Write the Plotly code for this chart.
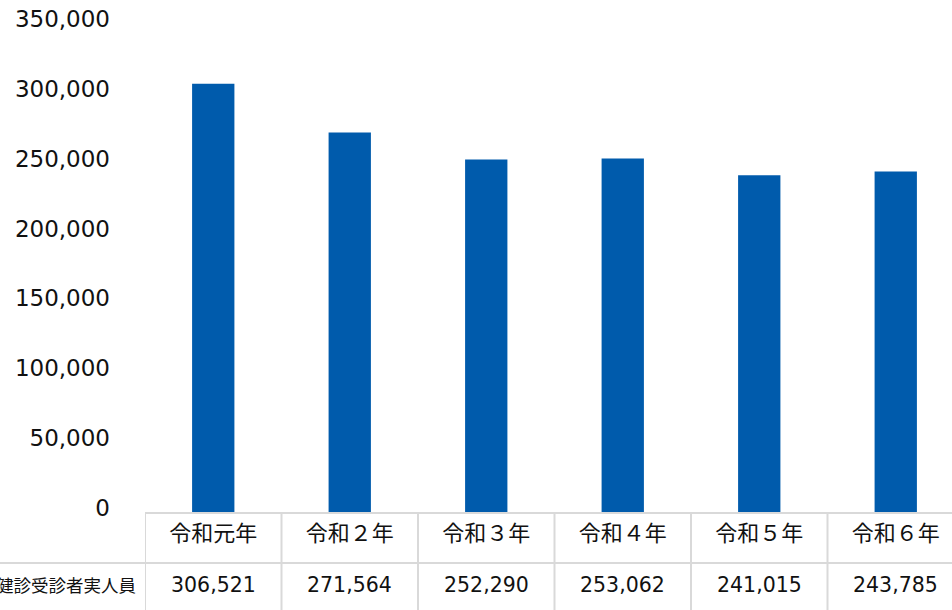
import plotly.graph_objects as go

categories = ["令和元年", "令和２年", "令和３年", "令和４年", "令和５年", "令和６年"]
values = [306521, 271564, 252290, 253062, 241015, 243785]
row_label = "特定健診受診者実人員"
y_ticks = [0, 50000, 100000, 150000, 200000, 250000, 300000, 350000]

W, H = 952, 610
ML, MR, MT, MB = 145, 0, 23, 98
PW = W - ML - MR
PH = H - MT - MB
CAT_W = 136.5  # px per category
x_hi = -0.5 + PW / CAT_W
BASE = H - MB  # pixel row of the value axis zero

bar_color = "#005BAC"
grid_color = "#D9D9D9"
font_latin = "DejaVu Sans, Noto Sans CJK JP, sans-serif"
font_cjk = "Noto Sans CJK JP, DejaVu Sans, sans-serif"

xs = list(range(len(categories)))

fig = go.Figure()
fig.add_trace(go.Bar(
    x=xs, y=values, marker=dict(color=bar_color, line=dict(width=0)),
    width=0.31, hoverinfo="skip",
))

# table row of values
annotations = []
for xi, v in zip(xs, values):
    annotations.append(dict(
        x=xi, xref="x", y=-(585 - BASE) / PH, yref="paper",
        text=f"{v:,}", showarrow=False, xanchor="center", yanchor="middle",
        font=dict(family=font_latin, size=20.5, color="#111111"),
    ))
annotations.append(dict(
    x=-7 / PW, xref="paper", y=-(585 - BASE) / PH, yref="paper",
    text=row_label, showarrow=False, xanchor="right", yanchor="middle",
    font=dict(family=font_cjk, size=17.5, color="#111111"),
))

shapes = []
y_top = -(513 - BASE) / PH
y_mid = -(563 - BASE) / PH
y_bot = -(H + 5 - BASE) / PH
shapes.append(dict(type="line", xref="paper", yref="paper", x0=0, x1=1.05,
                   y0=y_top, y1=y_top, line=dict(color=grid_color, width=2)))
shapes.append(dict(type="line", xref="paper", yref="paper", x0=-ML / PW, x1=1.05,
                   y0=y_mid, y1=y_mid, line=dict(color=grid_color, width=2)))
for xi in xs:
    shapes.append(dict(type="line", xref="x", yref="paper", x0=xi - 0.5, x1=xi - 0.5,
                       y0=y_top, y1=y_bot, line=dict(color=grid_color, width=2)))

fig.update_layout(
    width=W, height=H,
    margin=dict(l=ML, r=MR, t=MT, b=MB, pad=0),
    plot_bgcolor="white", paper_bgcolor="white",
    showlegend=False,
    xaxis=dict(
        range=[-0.5, x_hi], tickmode="array", tickvals=xs, ticktext=categories,
        showgrid=False, zeroline=False, showline=False, ticks="",
        tickfont=dict(family=font_cjk, size=22, color="#111111"),
        ticklabelstandoff=6, fixedrange=True,
    ),
    yaxis=dict(
        range=[0, 350000], tickmode="array", tickvals=y_ticks,
        ticktext=[f"{t:,}" for t in y_ticks],
        showgrid=False, zeroline=False, showline=False, ticks="",
        tickfont=dict(family=font_latin, size=23, color="#111111"),
        ticklabelstandoff=34, ticklabelshift=-4, fixedrange=True,
    ),
    annotations=annotations,
    shapes=shapes,
)

fig.write_html(
    "out.html",
    config={"displayModeBar": False},
    post_script="document.body.style.margin='0';document.body.style.overflow='hidden';",
)
